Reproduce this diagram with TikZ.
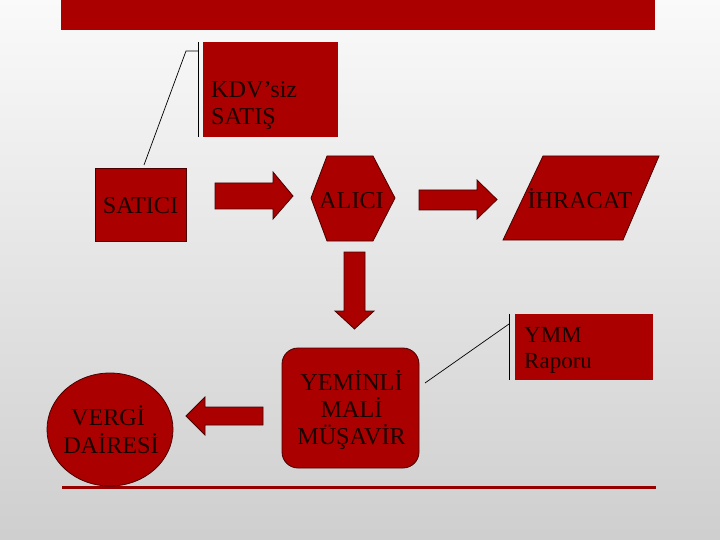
\documentclass[tikz,border=0pt]{standalone}
\usepackage{fontspec}
\setmainfont{Liberation Serif}
\definecolor{boxred}{HTML}{AA0000}
\definecolor{edgered}{HTML}{4A0000}
\definecolor{rulered}{HTML}{960000}
\definecolor{inkdark}{HTML}{1A0000}
\tikzset{
  shapebox/.style={fill=boxred, draw=edgered, line width=0.8pt, line join=miter},
  blockarrow/.style={fill=boxred, draw=edgered, line width=0.8pt},
  label/.style={inner sep=0pt, text=inkdark, font=\fontsize{24.2}{27}\selectfont},
  smalllabel/.style={inner sep=0pt, text=inkdark, font=\fontsize{23}{26}\selectfont},
  calloutline/.style={draw=black, line width=0.7pt}
}
\begin{document}
\begin{tikzpicture}[x=1pt,y=-1pt]
\useasboundingbox (0,0) rectangle (720,540);
\shade[top color=white!98!black, middle color=white!92!black, bottom color=white!81!black] (0,0) rectangle (720,540);
% top bar
\fill[boxred] (61,0) rectangle (655,30);
% bottom rule
\draw[rulered, line width=3pt] (62,487) -- (656,487);

% KDV'siz SATIS callout
\fill[boxred] (203,42) rectangle (338,137);
\coordinate (kdvtop) at (198,42);
\coordinate (kdvbot) at (198,137);
\coordinate (kdvknee) at (198,51);
\coordinate (kdvelbow) at (186,51);
\coordinate (saticitip) at (144,165);
\draw[calloutline] (kdvtop) -- (kdvbot);
\draw[calloutline] (kdvknee) -- (kdvelbow) -- (saticitip);
\node[label, anchor=base west] (kdv1) at (211,98) {KDV’siz};
\node[label, anchor=base west] (kdv2) at (211,125) {SATIŞ};

% SATICI
\fill[shapebox] (95,168) rectangle (186,241);
\node[label, anchor=base] (satici) at (140.5,214) {SATICI};

% arrow 1
\path[blockarrow] (215,183) -- (273,183) -- (273,172) -- (293,196) -- (273,219) -- (273,209) -- (215,209) -- cycle;

% ALICI hexagon
\path[shapebox] (327,156) -- (373,156) -- (395,198) -- (373,241) -- (327,241) -- (311,198) -- cycle;
\node[label, anchor=base] (alici) at (351.5,208) {ALICI};

% arrow 2
\path[blockarrow] (419,190) -- (477,190) -- (477,180) -- (497,199.5) -- (477,219) -- (477,210) -- (419,210) -- cycle;

% IHRACAT parallelogram
\path[shapebox] (543,156) -- (659,156) -- (623,240) -- (503,240) -- cycle;
\node[label, anchor=base] (ihracat) at (580,208) {İHRACAT};

% down arrow
\path[blockarrow] (344,252) -- (365,252) -- (365,311) -- (374,311) -- (354.5,329) -- (335,311) -- (344,311) -- cycle;

% YMM rounded box
\path[shapebox, rounded corners=16pt] (282,348) rectangle (419,468);
\node[label, anchor=base] (ymm1) at (351.5,390) {YEMİNLİ};
\node[label, anchor=base] (ymm2) at (351.5,417) {MALİ};
\node[label, anchor=base] (ymm3) at (351.5,444) {MÜŞAVİR};

% left arrow
\path[blockarrow] (263,407) -- (205,407) -- (205,397) -- (186,416) -- (205,435) -- (205,425) -- (263,425) -- cycle;

% VERGI DAIRESI ellipse
\path[shapebox] (110,429.5) ellipse [x radius=63, y radius=56.5];
\node[label, anchor=base] (vergi1) at (108,425) {VERGİ};
\node[label, anchor=base] (vergi2) at (111,453) {DAİRESİ};

% YMM Raporu callout
\fill[boxred] (515,314) rectangle (653,380);
\coordinate (rapTop) at (509,314);
\coordinate (rapBot) at (509,380);
\coordinate (rapKnee) at (509,324);
\coordinate (rapEnd) at (425,383);
\draw[calloutline] (rapTop) -- (rapBot);
\draw[calloutline] (rapKnee) -- (rapEnd);
\node[smalllabel, anchor=base west] (rap1) at (524,342) {YMM};
\node[smalllabel, anchor=base west] (rap2) at (524,368) {Raporu};
\end{tikzpicture}
\end{document}
